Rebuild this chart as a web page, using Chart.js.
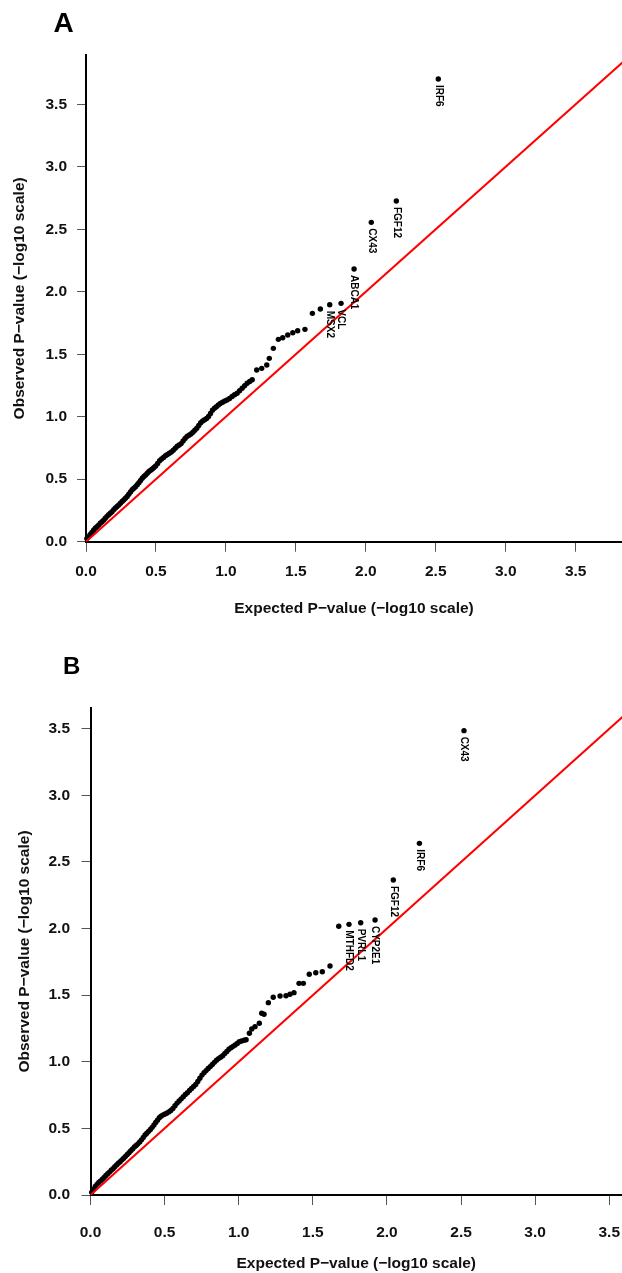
<!DOCTYPE html>
<html>
<head>
<meta charset="utf-8">
<script src="https://cdn.jsdelivr.net/npm/chart.js@4.4.0/dist/chart.umd.min.js"></script>
<style>
  html, body { margin: 0; padding: 0; background: #fff; }
  #wrap { position: relative; width: 622px; height: 1273px; overflow: hidden; }
  canvas { position: absolute; left: 0; }
  #qqA { top: 0; }
  #qqB { top: 636px; }
</style>
</head>
<body>
<div id="wrap">
  <canvas id="qqA" width="622" height="636"></canvas>
  <canvas id="qqB" width="622" height="637"></canvas>
</div>
<script>
// Panel A: expected vs observed -log10 p-values
var expectedA = [0.006, 0.018, 0.030, 0.042, 0.054, 0.066, 0.078, 0.090, 0.102, 0.114,
  0.126, 0.138, 0.150, 0.162, 0.174, 0.186, 0.198, 0.210, 0.222, 0.234,
  0.246, 0.258, 0.270, 0.282, 0.294, 0.306, 0.318, 0.330, 0.342, 0.354,
  0.366, 0.378, 0.390, 0.402, 0.414, 0.426, 0.438, 0.450, 0.462, 0.474,
  0.486, 0.498, 0.512, 0.526, 0.540, 0.554, 0.568, 0.582, 0.596, 0.610,
  0.624, 0.638, 0.652, 0.666, 0.680, 0.694, 0.708, 0.722, 0.736, 0.750,
  0.764, 0.778, 0.792, 0.806, 0.820, 0.834, 0.848, 0.862, 0.876, 0.890,
  0.904, 0.918, 0.932, 0.946, 0.960, 0.976, 0.992, 1.008, 1.026, 1.044,
  1.062, 1.080, 1.098, 1.116, 1.134, 1.152, 1.170, 1.188, 1.220, 1.256,
  1.292, 1.310, 1.339, 1.375, 1.406, 1.442, 1.478, 1.513, 1.565, 1.618,
  1.675, 1.742, 1.823, 1.916, 2.039, 2.218, 2.518];
var observedA = [0.025, 0.040, 0.058, 0.075, 0.092, 0.108, 0.120, 0.133, 0.148, 0.160,
  0.172, 0.188, 0.203, 0.216, 0.228, 0.240, 0.256, 0.270, 0.282, 0.294,
  0.308, 0.322, 0.334, 0.348, 0.362, 0.380, 0.398, 0.416, 0.428, 0.440,
  0.456, 0.472, 0.490, 0.508, 0.522, 0.534, 0.548, 0.562, 0.572, 0.582,
  0.594, 0.606, 0.626, 0.648, 0.662, 0.674, 0.688, 0.698, 0.708, 0.718,
  0.732, 0.748, 0.764, 0.774, 0.785, 0.806, 0.826, 0.842, 0.852, 0.862,
  0.876, 0.892, 0.908, 0.930, 0.952, 0.966, 0.976, 0.986, 1.002, 1.026,
  1.052, 1.068, 1.080, 1.094, 1.106, 1.116, 1.126, 1.134, 1.146, 1.162,
  1.176, 1.188, 1.208, 1.228, 1.248, 1.268, 1.282, 1.296, 1.374, 1.387,
  1.414, 1.467, 1.547, 1.619, 1.632, 1.654, 1.672, 1.688, 1.699, 1.827,
  1.862, 1.896, 1.907, 2.182, 2.555, 2.726, 3.702];
// names of the top-ranked genes, the last points of the series
var genesA = ['MSX2', 'VCL', 'ABCA1', 'CX43', 'FGF12', 'IRF6'];

// Panel B
var expectedB = [0.008, 0.020, 0.032, 0.044, 0.056, 0.068, 0.080, 0.092, 0.104, 0.116,
  0.128, 0.140, 0.152, 0.164, 0.176, 0.188, 0.200, 0.212, 0.224, 0.236,
  0.248, 0.260, 0.272, 0.284, 0.296, 0.308, 0.320, 0.332, 0.344, 0.356,
  0.368, 0.380, 0.392, 0.404, 0.416, 0.428, 0.440, 0.452, 0.464, 0.476,
  0.488, 0.500, 0.514, 0.528, 0.542, 0.556, 0.570, 0.584, 0.598, 0.612,
  0.626, 0.640, 0.654, 0.668, 0.682, 0.696, 0.710, 0.724, 0.738, 0.752,
  0.766, 0.780, 0.794, 0.808, 0.822, 0.836, 0.850, 0.864, 0.878, 0.892,
  0.906, 0.920, 0.934, 0.948, 0.962, 0.976, 0.990, 1.004, 1.020, 1.036,
  1.050, 1.072, 1.088, 1.110, 1.139, 1.155, 1.171, 1.200, 1.233, 1.279,
  1.319, 1.346, 1.373, 1.407, 1.436, 1.476, 1.520, 1.564, 1.616, 1.675,
  1.744, 1.823, 1.920, 2.043, 2.219, 2.520];
var observedB = [0.020, 0.042, 0.064, 0.080, 0.094, 0.106, 0.118, 0.132, 0.146, 0.160,
  0.172, 0.186, 0.198, 0.212, 0.226, 0.238, 0.250, 0.264, 0.276, 0.290,
  0.304, 0.318, 0.332, 0.346, 0.360, 0.372, 0.384, 0.398, 0.414, 0.432,
  0.450, 0.464, 0.478, 0.492, 0.508, 0.526, 0.544, 0.562, 0.580, 0.592,
  0.600, 0.606, 0.614, 0.624, 0.634, 0.650, 0.670, 0.690, 0.706, 0.722,
  0.738, 0.754, 0.768, 0.784, 0.800, 0.814, 0.830, 0.852, 0.876, 0.900,
  0.918, 0.934, 0.950, 0.964, 0.980, 0.996, 1.012, 1.024, 1.034, 1.046,
  1.062, 1.078, 1.094, 1.106, 1.116, 1.126, 1.138, 1.150, 1.156, 1.162,
  1.166, 1.214, 1.246, 1.264, 1.289, 1.364, 1.357, 1.444, 1.484, 1.494,
  1.496, 1.507, 1.519, 1.589, 1.589, 1.657, 1.669, 1.676, 1.719, 2.017,
  2.032, 2.044, 2.065, 2.365, 2.640, 3.486];
var genesB = ['MTHFD2', 'PVRL1', 'CYP2E1', 'FGF12', 'IRF6', 'CX43'];

// axis ticks and the y = x reference line
var tickValues = [0, 0.5, 1.0, 1.5, 2.0, 2.5, 3.0, 3.5];
var refLine = [0, 5];

var FONT = '"Liberation Sans", Arial, sans-serif';

function toPoints(xs, ys) {
  return xs.map(function(x, i) { return {x: x, y: ys[i]}; });
}

// draws the gene names, rotated, under their dots
var geneLabels = {
  id: 'geneLabels',
  afterDatasetsDraw: function(chart, args, opts) {
    var ctx = chart.ctx, meta = chart.getDatasetMeta(1);
    var n = meta.data.length, genes = opts.genes;
    ctx.save();
    ctx.fillStyle = '#000';
    ctx.font = 'bold 10px ' + FONT;
    ctx.textAlign = 'left';
    ctx.textBaseline = 'middle';
    genes.forEach(function(g, i) {
      var el = meta.data[n - genes.length + i];
      ctx.save();
      ctx.translate(el.x, el.y + 6);
      ctx.rotate(Math.PI / 2);
      ctx.fillText(g, 0, 0);
      ctx.restore();
    });
    ctx.restore();
  }
};

var panelLetter = {
  id: 'panelLetter',
  afterDraw: function(chart, args, opts) {
    var ctx = chart.ctx;
    ctx.save();
    ctx.fillStyle = '#000';
    ctx.font = 'bold ' + opts.size + 'px ' + FONT;
    ctx.textAlign = 'left';
    ctx.textBaseline = 'alphabetic';
    ctx.fillText(opts.text, opts.x, opts.y);
    ctx.restore();
  }
};

function makePanel(id, cfg) {
  var tickFont = {family: FONT, size: 15.5, weight: 'bold'};
  new Chart(document.getElementById(id), {
    data: {
      datasets: [{
        type: 'line',
        data: toPoints(refLine, refLine),
        borderColor: '#ff0000',
        borderWidth: 2,
        pointRadius: 0,
        fill: false,
        order: 0
      }, {
        type: 'scatter',
        data: toPoints(cfg.xs, cfg.ys),
        backgroundColor: '#000',
        borderWidth: 0,
        pointRadius: 2.7,
        clip: false,
        order: 1
      }]
    },
    options: {
      responsive: false,
      animation: false,
      devicePixelRatio: 1,
      layout: {autoPadding: false, padding: {top: cfg.top, right: 0, left: 0, bottom: 0}},
      plugins: {
        legend: {display: false},
        tooltip: {enabled: false},
        geneLabels: {genes: cfg.genes},
        panelLetter: cfg.letter
      },
      scales: {
        x: {
          type: 'linear',
          min: 0,
          max: cfg.xmax,
          afterBuildTicks: function(s) { s.ticks = tickValues.map(function(v) { return {value: v}; }); },
          afterFit: function(s) { s.height = cfg.xh; s.paddingLeft = 0; s.paddingRight = 0; },
          border: {display: true, color: '#000', width: 2},
          grid: {drawOnChartArea: false, drawTicks: true, tickLength: 10, tickColor: '#555', tickWidth: 1},
          ticks: {
            autoSkip: false, maxRotation: 0, color: '#111', font: tickFont, padding: cfg.xpad,
            callback: function(v) { return v.toFixed(1); }
          },
          title: {
            display: true, text: 'Expected P\u2212value (\u2212log10 scale)', color: '#111',
            font: tickFont, padding: {top: 0, bottom: cfg.xtitlePad}
          }
        },
        y: {
          type: 'linear',
          min: 0,
          max: cfg.ymax,
          afterBuildTicks: function(s) { s.ticks = tickValues.map(function(v) { return {value: v}; }); },
          afterFit: function(s) { s.width = cfg.yw; s.paddingTop = 0; s.paddingBottom = 0; },
          border: {display: true, color: '#000', width: 2},
          grid: {drawOnChartArea: false, drawTicks: true, tickLength: 9, tickColor: '#555', tickWidth: 1},
          ticks: {
            autoSkip: false, color: '#111', font: tickFont, padding: cfg.ypad,
            callback: function(v) { return v.toFixed(1); }
          },
          title: {
            display: true, text: 'Observed P\u2212value (\u2212log10 scale)', color: '#111',
            font: tickFont, padding: {top: cfg.ytitlePad, bottom: 0}
          }
        }
      }
    },
    plugins: [geneLabels, panelLetter]
  });
}

makePanel('qqA', {
  xs: expectedA, ys: observedA, genes: genesA,
  top: 55, xmax: 3.831, ymax: 3.894, xh: 94.3, yw: 86,
  xpad: 10.7, xtitlePad: 18.4, ypad: 10, ytitlePad: 10.7,
  letter: {text: 'A', x: 53.5, y: 32, size: 28}
});

makePanel('qqB', {
  xs: expectedB, ys: observedB, genes: genesB,
  top: 72, xmax: 3.586, ymax: 3.656, xh: 78, yw: 90.5,
  xpad: 18.7, xtitlePad: 0.1, ypad: 11.5, ytitlePad: 15.7,
  letter: {text: 'B', x: 63, y: 37.5, size: 24}
});
</script>
</body>
</html>
